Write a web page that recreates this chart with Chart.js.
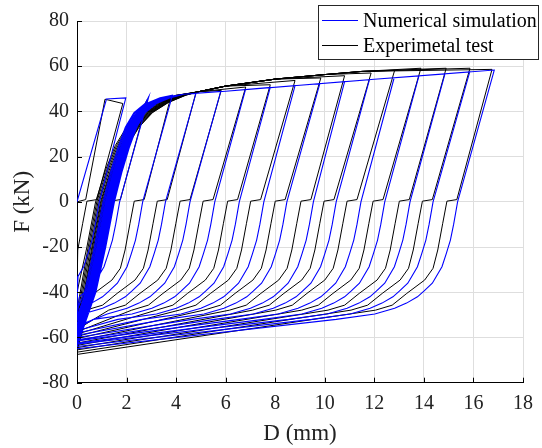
<!DOCTYPE html>
<html>
<head>
<meta charset="utf-8">
<script src="https://cdn.jsdelivr.net/npm/chart.js@4/dist/chart.umd.min.js"></script>
<style>
html,body{margin:0;padding:0;background:#fff;}
#wrap{width:542px;height:448px;position:relative;}
</style>
</head>
<body>
<div id="wrap"><canvas id="c" width="542" height="448"></canvas></div>
<script>
// ---- Axis ticks ----
const xTicks = [0, 2, 4, 6, 8, 10, 12, 14, 16, 18];
const yTicks = [-80, -60, -40, -20, 0, 20, 40, 60, 80];
const seriesNames = ['Numerical simulation', 'Experimetal test'];

// ---- Numerical simulation (blue) ----
const peakD_num = [1.97, 2.9, 3.85, 4.8, 5.8, 6.8, 7.8, 8.8, 9.8, 10.8, 11.8, 12.8, 13.8, 14.85, 15.85, 16.84];
const peakF_num = [46.0, 46.6, 47.2, 48.0, 48.9, 49.7, 50.6, 51.4, 52.3, 53.2, 54.0, 54.9, 55.7, 56.6, 57.5, 58.3];
const zeroD_num = [0.9, 1.72, 2.65, 3.57, 4.56, 5.56, 6.55, 7.54, 8.47, 9.54, 10.46, 11.46, 12.42, 13.44, 14.37, 15.36];
const endF_num  = [-48, -51, -52.5, -54, -55, -56, -57, -58, -59, -60, -61, -61.5, -62.5, -63, -64, -65];
const shift_num = [0, -0.1, -0.05, 0, 0.03, 0.06, 0.1, 0.12, 0.15, 0.19, 0.21, 0.25, 0.27, 0.3, 0.33, 0.36];
const firstLoad_num = [[0, 0], [1.19, 45.5]];
const load_num  = [[0.4, -40], [0.8, -20], [1.15, 0], [1.45, 13], [1.75, 24], [2.05, 33], [2.4, 39.5], [2.85, 43.5], [3.4, 46]];
const env_num   = [[4.3, 47.6], [6, 48.9], [9, 51.6], [12, 54.2], [16.84, 58.3]];
const unload_num = [[0, 0], [-0.16, -10], [-0.29, -16.9], [-0.46, -23], [-0.63, -28.7], [-0.86, -33], [-1.02, -36],
                    [-1.36, -39.5], [-1.62, -42], [-2.06, -44.8], [-2.54, -47.1], [-3.34, -49.6], [-4.9, -52]];

// ---- Experimental test (black) ----
const peakD_exp = [1.85, 2.85, 3.8, 4.8, 5.82, 6.81, 7.8, 8.8, 9.84, 10.8, 11.87, 12.82, 13.88, 14.9, 15.86, 16.75];
const peakF_exp = [43.5, 45.5, 47, 48.2, 49.3, 50.8, 51.8, 53.7, 54.8, 55.8, 57, 58.2, 59.1, 59.1, 59.1, 58.6];
const zeroD_exp = [0.8, 1.75, 2.71, 3.64, 4.56, 5.49, 6.48, 7.41, 8.4, 9.44, 10.37, 11.3, 12.35, 13.41, 14.34, 15.33];
const endF_exp  = [-40, -50, -54, -55.5, -56.5, -57.5, -58.5, -59.5, -60.5, -61.5, -62.5, -63.5, -64.5, -65.5, -66.5, -67.5];
const shift_exp = [0, -0.2, -0.15, -0.1, -0.05, 0, 0.03, 0.07, 0.1, 0.13, 0.16, 0.19, 0.22, 0.25, 0.28, 0.3];
const firstLoad_exp = [[0, 0], [0.35, 1], [1.13, 45.4]];
const load_exp  = [[0.2, -45], [0.6, -20], [0.95, 0], [1.35, 14], [1.75, 25], [2.2, 33], [2.75, 39.5], [3.4, 44], [4.1, 47.2]];
const env_exp   = [[4.9, 48.7], [6, 51.2], [8, 54.3], [10, 56.3], [11.5, 57.7], [13.8, 59.1], [15.5, 59.3], [16.75, 58.8]];
const unload_exp = [[0, 1], [-0.4, 0.3], [-0.57, -9.5], [-0.77, -21.3], [-0.96, -29.4], [-1.3, -34.6], [-2.02, -40.5], [-2.61, -45.7], [-3.28, -47.9]];

// Assemble the continuous hysteresis path from the read branches
function buildPath(first, load, env, unload, peakD, peakF, zeroD, endF, shift) {
  const pts = [];
  for (let i = 0; i < peakD.length; i++) {
    const Dp = peakD[i], Fp = peakF[i];
    if (i === 0) {
      first.forEach(p => pts.push({x: p[0], y: p[1]}));
    } else {
      let lastD = 0;
      for (const [d, f] of load) {
        const x = d + shift[i];
        if (x > 0 && x < Dp && f < Fp) { pts.push({x: x, y: f}); lastD = x; }
      }
      for (const [d, f] of env) {
        if (d > lastD && d < Dp && f < Fp) pts.push({x: d, y: f});
      }
    }
    pts.push({x: Dp, y: Fp});
    for (const [d, f] of unload) {
      const x = zeroD[i] + d;
      if (x > 0.02) pts.push({x: x, y: f});
    }
    pts.push({x: 0, y: endF[i]});
  }
  return pts;
}

const numPts = buildPath(firstLoad_num, load_num, env_num, unload_num, peakD_num, peakF_num, zeroD_num, endF_num, shift_num);
const expPts = buildPath(firstLoad_exp, load_exp, env_exp, unload_exp, peakD_exp, peakF_exp, zeroD_exp, endF_exp, shift_exp);

const FONT = "'Liberation Serif', 'Times New Roman', serif";

const innerTicks = {
  id: 'innerTicks',
  afterDatasetsDraw(chart) {
    const ctx = chart.ctx, a = chart.chartArea;
    const xs = chart.scales.x, ys = chart.scales.y;
    ctx.save();
    ctx.strokeStyle = '#000';
    ctx.lineWidth = 1;
    ctx.beginPath();
    xTicks.forEach(v => {
      const px = Math.round(xs.getPixelForValue(v)) + 0.5;
      ctx.moveTo(px, a.bottom); ctx.lineTo(px, a.bottom - 5);
    });
    yTicks.forEach(v => {
      const py = Math.round(ys.getPixelForValue(v)) + 0.5;
      ctx.moveTo(a.left, py); ctx.lineTo(a.left + 5, py);
    });
    ctx.stroke();
    ctx.restore();
  }
};

const boxLegend = {
  id: 'boxLegend',
  afterDraw(chart) {
    const ctx = chart.ctx;
    ctx.save();
    ctx.fillStyle = '#fff';
    ctx.fillRect(318, 5, 221, 55);
    ctx.strokeStyle = '#262626';
    ctx.lineWidth = 1;
    ctx.strokeRect(318.5, 5.5, 220, 54);
    const rows = [[seriesNames[0], '#0000ff', 20.5], [seriesNames[1], '#000000', 45.5]];
    ctx.font = '20px ' + FONT;
    ctx.textBaseline = 'middle';
    ctx.textAlign = 'left';
    rows.forEach(([t, c, y]) => {
      ctx.strokeStyle = c;
      ctx.beginPath(); ctx.moveTo(322, y); ctx.lineTo(358, y); ctx.stroke();
      ctx.fillStyle = '#000';
      ctx.fillText(t, 363, y + 1);
    });
    ctx.restore();
  }
};

new Chart(document.getElementById('c'), {
  type: 'scatter',
  data: {
    datasets: [
      {label: seriesNames[0], data: numPts, showLine: true, borderColor: '#0000ff', backgroundColor: '#0000ff',
       borderWidth: 1.1, pointRadius: 0, tension: 0, order: 0},
      {label: seriesNames[1], data: expPts, showLine: true, borderColor: '#000000', backgroundColor: '#000000',
       borderWidth: 1, pointRadius: 0, tension: 0, order: 1}
    ]
  },
  options: {
    responsive: false,
    animation: false,
    events: [],
    layout: {padding: {top: 21, right: 11, left: 0, bottom: 0}},
    plugins: {legend: {display: false}, tooltip: {enabled: false}},
    scales: {
      x: {
        type: 'linear', min: 0, max: 18,
        afterBuildTicks: s => { s.ticks = xTicks.map(v => ({value: v})); },
        afterFit: s => { s.height = 65.3; },
        grid: {color: '#dedede', drawTicks: false},
        border: {display: true, color: '#000', width: 1},
        ticks: {font: {family: FONT, size: 20}, color: '#222', padding: 9, maxRotation: 0},
        title: {display: true, text: 'D (mm)', font: {family: FONT, size: 23}, color: '#222', padding: {top: 0, bottom: 0}}
      },
      y: {
        type: 'linear', min: -80, max: 80,
        afterBuildTicks: s => { s.ticks = yTicks.map(v => ({value: v})); },
        afterFit: s => { s.width = 77; },
        grid: {color: '#dedede', drawTicks: false},
        border: {display: true, color: '#000', width: 1},
        ticks: {font: {family: FONT, size: 20}, color: '#222', padding: 8},
        title: {display: true, text: 'F (kN)', font: {family: FONT, size: 23}, color: '#222', padding: {top: 9, bottom: 0}}
      }
    }
  },
  plugins: [innerTicks, boxLegend]
});
</script>
</body>
</html>
